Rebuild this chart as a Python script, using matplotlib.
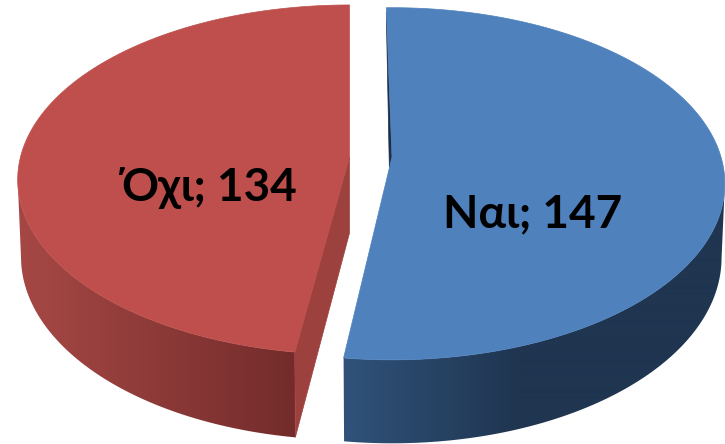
import numpy as np
import matplotlib
matplotlib.use("Agg")
import matplotlib.pyplot as plt
from matplotlib.patches import Polygon
from matplotlib.colors import to_rgb

categories = ["Ναι", "Όχι"]
values = [147, 134]

# Styles / projection of the exploded 3D pie
top_colors = ["#4F81BD", "#BE4F4C"]
wall_near = ["#30527A", "#732C2B"]   # colour at the wall end nearest the cut
wall_far = ["#1F3550", "#A44744"]    # colour further along the wall
grad_x = [(344, 520), (295, 30)]
cut_colors = ["#1B2F49", "#9C413E"]
apex = [(392, 157), (349.5, 157)]
rot = [-1.15, 0.0]
B = [172.0, 171.8]
K = [0.152, 0.13]
A = 329.0
DROP = [72.5, 76.0]
F = 0.99
label_pos = [(533, 227), (209, 201)]


def rim(i, deg, lower=False):
    t = np.radians(np.asarray(deg, dtype=float) + rot[i])
    u, v = np.sin(t), np.cos(t)
    w = 1 + K[i] * v
    cx, cy = apex[i]
    if lower:
        return np.column_stack([cx + F * A * u / w, cy + (DROP[i] - F * B[i] * v) / w])
    return np.column_stack([cx + A * u / w, cy - B[i] * v / w])


def gradient(i):
    f = np.clip((np.arange(725) + 0.5 - grad_x[i][0]) / (grad_x[i][1] - grad_x[i][0]), 0, 1)
    a, b = np.array(to_rgb(wall_near[i])), np.array(to_rgb(wall_far[i]))
    return (a + (b - a) * f[:, None])[None, :, :]


fig = plt.figure(figsize=(7.25, 4.44), dpi=100)
ax = fig.add_axes([0, 0, 1, 1])
ax.axis("off")

total = sum(values)
spans = [v / total * 360 for v in values]
starts = [0.0, spans[0]]

for i in [1, 0]:
    a0, a1 = starts[i], starts[i] + spans[i]
    z = 2 if i == 1 else 4
    # front wall: from the cut out to the silhouette on the widest side
    cut, outer = (a1, 85.0) if i == 0 else (a0, 285.0)
    ds = np.linspace(cut, outer, 400)
    up, low = rim(i, ds), rim(i, ds, lower=True)
    iu = np.argmax(np.abs(up[:, 0] - apex[i][0]))
    il = np.argmax(np.abs(low[:, 0] - apex[i][0]))
    wall = Polygon(np.vstack([up[:iu + 1], low[il::-1]]), closed=True, transform=ax.transData)
    im = ax.imshow(gradient(i), extent=(0, 725, 444, 0), aspect="auto",
                   interpolation="bilinear", zorder=z)
    im.set_clip_path(wall)
    if i == 1:
        p = np.vstack([[apex[i]], rim(i, [a0]), rim(i, [a0], lower=True),
                       [(apex[i][0], apex[i][1] + DROP[i])]])
    else:
        r0 = rim(i, [a0])[0]
        r1 = rim(i, [a1])[0]
        ap = np.array(apex[i], dtype=float)
        p = np.vstack([r0 + [0, 4], ap, ap + (r1 - ap) * 0.055])
    ax.add_patch(Polygon(p, closed=True, fc=cut_colors[i], ec=cut_colors[i], lw=0.5, zorder=z))
    ds = np.linspace(a0, a1, 300)
    top = np.vstack([[apex[i]], rim(i, ds)])
    ax.add_patch(Polygon(top, closed=True, fc=top_colors[i], ec=top_colors[i], lw=0.5, zorder=z + 1))

ax.set_xlim(0, 725)
ax.set_ylim(444, 0)

for i, name in enumerate(categories):
    ax.text(*label_pos[i], f"{name}; {values[i]}", ha="center", va="baseline",
            fontsize=33, fontweight="bold", color="black", zorder=10,
            family=["Lato", "DejaVu Sans"])

fig.savefig("out.png", dpi=100)
